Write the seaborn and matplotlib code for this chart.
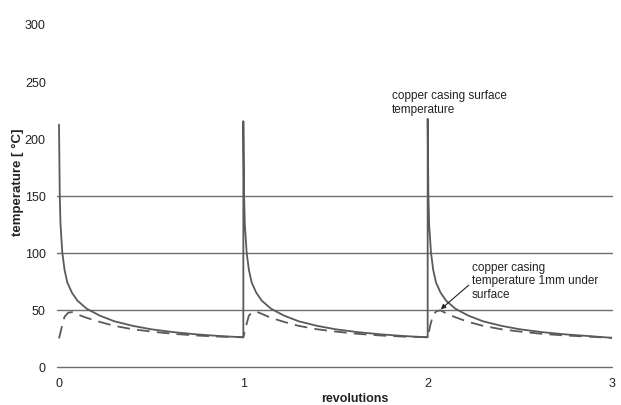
import matplotlib
matplotlib.use("Agg")
import matplotlib.pyplot as plt
import seaborn as sns
import pandas as pd

# surface temperature (solid)
surf_x = [0.0, 0.004, 0.008, 0.018, 0.03, 0.045, 0.07, 0.1, 0.15, 0.22, 0.3, 0.4, 0.5, 0.62, 0.75, 0.88, 0.999,
          1.0, 1.0, 1.004, 1.008, 1.018, 1.03, 1.045, 1.07, 1.1, 1.15, 1.22, 1.3, 1.4, 1.5, 1.62, 1.75, 1.88, 1.999,
          2.0, 2.0, 2.004, 2.008, 2.018, 2.03, 2.045, 2.07, 2.1, 2.15, 2.22, 2.3, 2.4, 2.5, 2.62, 2.75, 2.88, 3.0]
surf_y = [212, 150, 125, 100, 85, 74, 65, 58, 51, 45, 40, 36, 33, 30.5, 28.5, 27, 26,
          26, 215, 150, 125, 100, 85, 74, 65, 58, 51, 45, 40, 36, 33, 30.5, 28.5, 27, 26,
          26, 217, 150, 125, 100, 85, 74, 65, 58, 51, 45, 40, 36, 33, 30.5, 28.5, 27, 25.5]

# temperature 1 mm under surface (dashed)
under_x = [0.0, 0.015, 0.03, 0.05, 0.07, 0.1, 0.15, 0.22, 0.3, 0.4, 0.5, 0.62, 0.75, 0.88, 0.999,
           1.0, 1.015, 1.03, 1.05, 1.07, 1.1, 1.15, 1.22, 1.3, 1.4, 1.5, 1.62, 1.75, 1.88, 1.999,
           2.0, 2.015, 2.03, 2.05, 2.07, 2.1, 2.15, 2.22, 2.3, 2.4, 2.5, 2.62, 2.75, 2.88, 3.0]
under_y = [25, 35, 44, 47.5, 48, 46, 43, 39.5, 36, 33, 31, 29, 27.5, 26.5, 26,
           26, 36, 45, 48, 48.5, 46.5, 43, 39.5, 36, 33, 31, 29, 27.5, 26.5, 26,
           26, 37, 46, 49, 49.5, 47, 43.5, 39.5, 36, 33, 31, 29, 27.5, 26.5, 25.5]

y_ticks = [0, 50, 100, 150, 200, 250, 300]
x_ticks = [0, 1, 2, 3]
grid_lines = [0, 50, 100, 150]

sns.set_theme(style="white")
plt.rcParams['font.family'] = ['Liberation Sans', 'DejaVu Sans']

fig = plt.figure(figsize=(6.21, 4.06), dpi=100)
ax = fig.add_axes([56.8 / 621, 38 / 406, 555.2 / 621, 343 / 406])

for g in grid_lines:
    ax.axhline(g, color="#6e6e6e", lw=1.0, zorder=1, clip_on=False)

df_s = pd.DataFrame({"x": surf_x, "y": surf_y})
df_u = pd.DataFrame({"x": under_x, "y": under_y})
sns.lineplot(data=df_s, x="x", y="y", sort=False, estimator=None, ax=ax,
             color="#5a5a5a", lw=1.3, zorder=3)
sns.lineplot(data=df_u, x="x", y="y", sort=False, estimator=None, ax=ax,
             color="#5a5a5a", lw=1.3, zorder=3, dashes=False, linestyle=(0, (7, 4)))

ax.set_xlim(-0.012, 3.0)
ax.set_ylim(0, 300)
ax.set_xticks(x_ticks)
ax.set_xticklabels([str(t) for t in x_ticks])
ax.set_yticks(y_ticks)
ax.set_yticklabels([str(t) for t in y_ticks])
ax.tick_params(axis="y", direction="in", length=2, color="#999999", labelsize=9, pad=8)
ax.tick_params(axis="y", labelcolor="#222222")
ax.tick_params(axis="x", length=0, labelsize=9, pad=7, labelcolor="#222222")
for s in ax.spines.values():
    s.set_visible(False)
ax.set_xlabel("")
ax.set_ylabel("")

fig.text(355 / 621, 1 - 399 / 406, "revolutions", ha="center", va="center",
         fontsize=9, fontweight="bold", color="#222222")
fig.text(18 / 621, 1 - 182 / 406, "temperature [ °C]", ha="center", va="center",
         rotation=90, fontsize=9.5, fontweight="bold", color="#222222")

ax.text(1.805, 243, "copper casing surface\ntemperature", ha="left", va="top",
        fontsize=8.5, color="#222222", linespacing=1.2)
ax.annotate("copper casing\ntemperature 1mm under\nsurface", xy=(2.071, 50.5),
            xytext=(2.24, 93), ha="left", va="top", fontsize=8.5, color="#222222",
            linespacing=1.2,
            arrowprops=dict(arrowstyle="-|>", color="#222222", lw=0.8,
                            mutation_scale=7, shrinkA=0, shrinkB=0,
                            relpos=(0.0, 0.45)))

fig.savefig("out.png", dpi=100)
